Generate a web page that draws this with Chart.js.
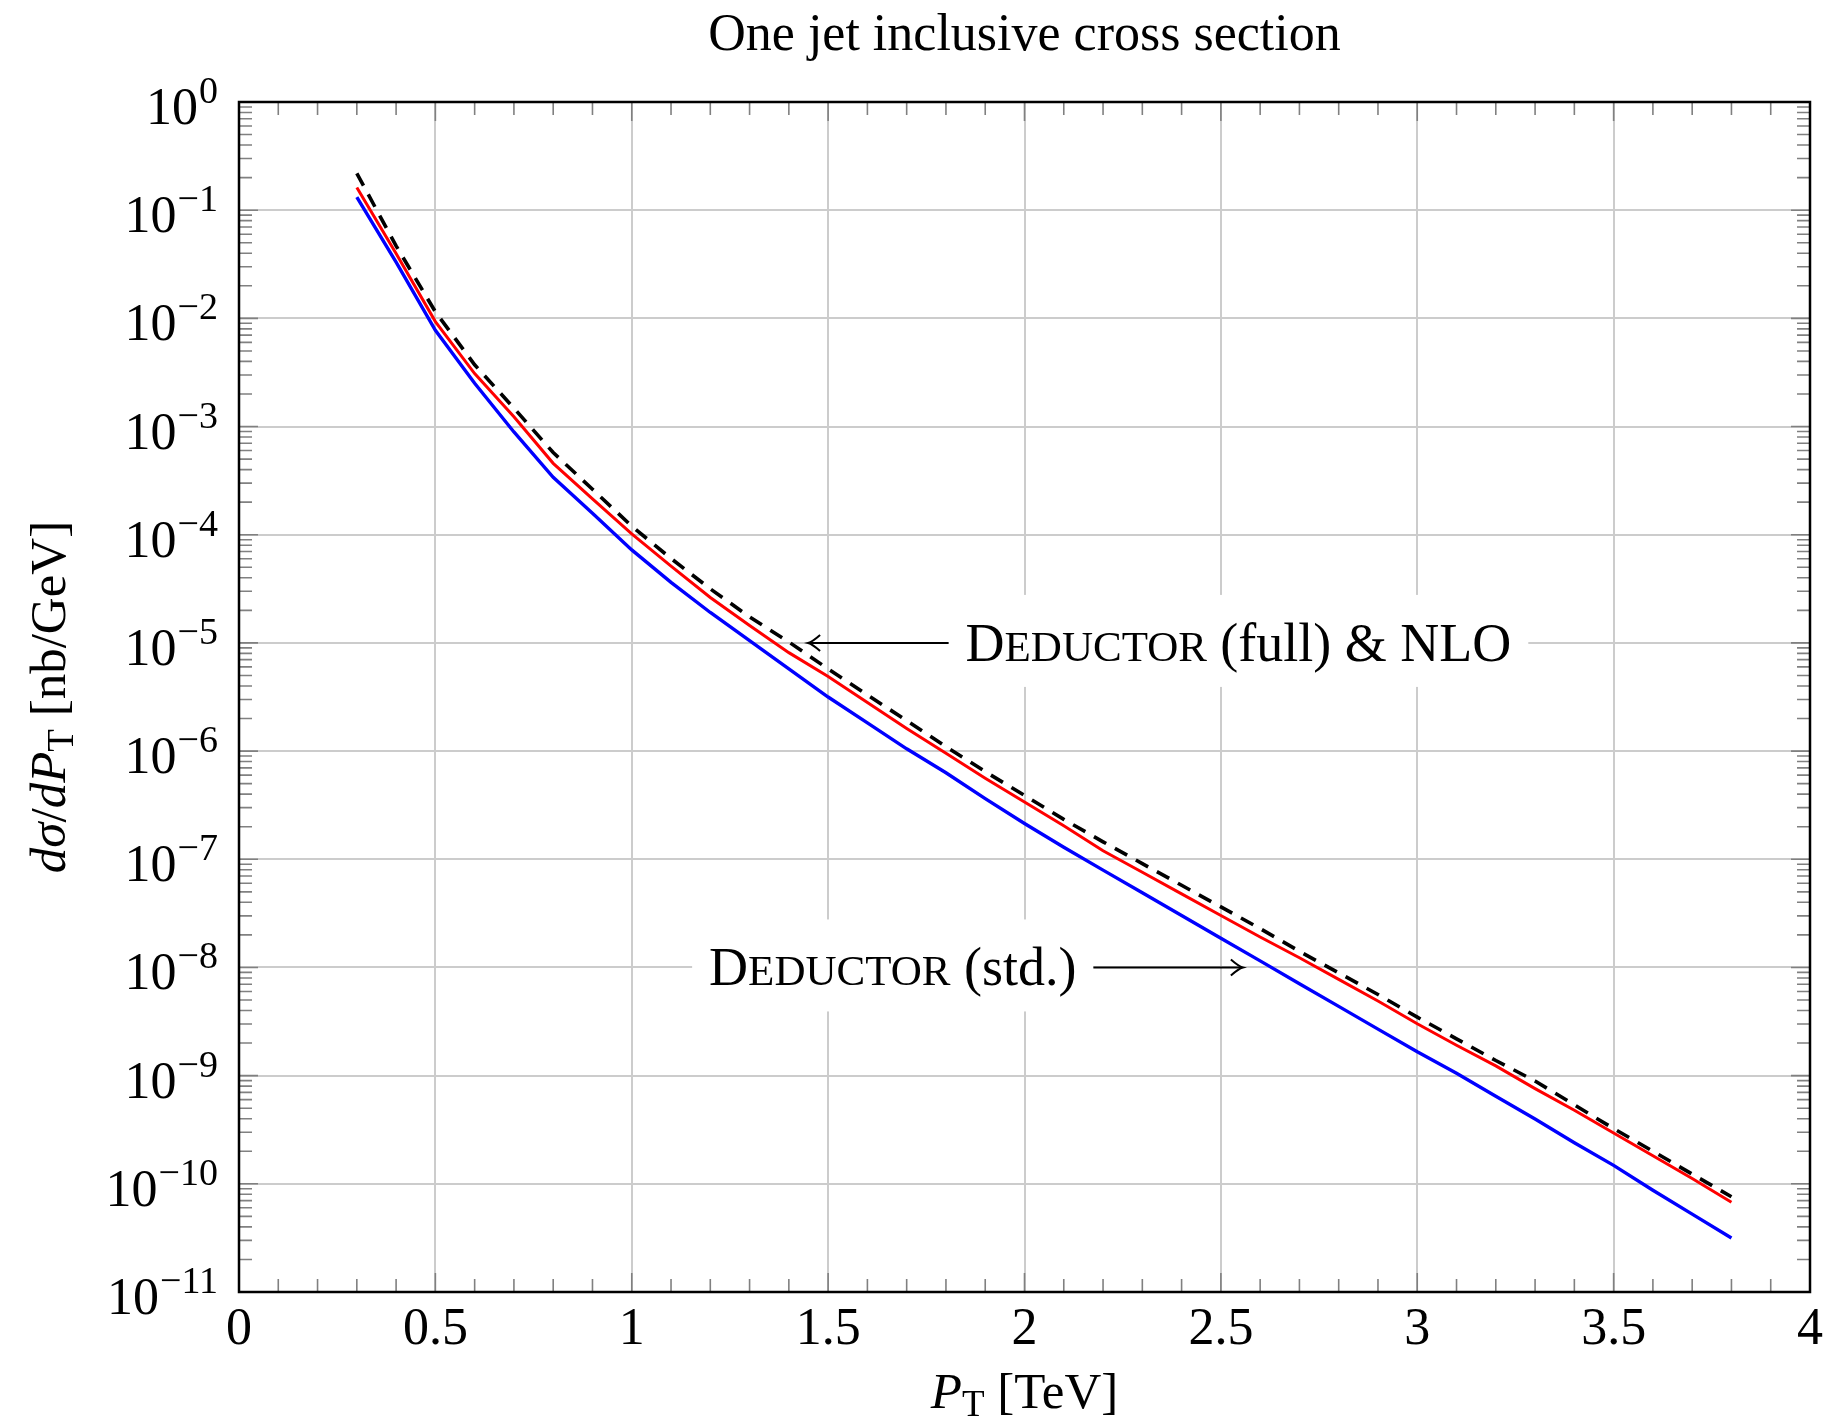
<!DOCTYPE html>
<html>
<head>
<meta charset="utf-8">
<script src="https://cdn.jsdelivr.net/npm/chart.js@4.4.1/dist/chart.umd.min.js"></script>
<style>
  html, body { margin: 0; padding: 0; background: #fff; }
  canvas { display: block; }
</style>
</head>
<body>
<canvas id="myChart" width="1828" height="1425"></canvas>
<script>
// P_T in TeV
const ptTeV = [0.3, 0.4, 0.5, 0.6, 0.7, 0.8, 0.9, 1.0, 1.1, 1.2, 1.3, 1.4, 1.5, 1.6, 1.7, 1.8, 1.9, 2.0,
               2.1, 2.2, 2.3, 2.4, 2.5, 2.6, 2.7, 2.8, 2.9, 3.0, 3.1, 3.2, 3.3, 3.4, 3.5, 3.6, 3.7, 3.8];

// dsigma/dPT in nb/GeV
const deductorStd = [1.32e-1, 3.31e-2, 7.76e-3, 2.51e-3, 8.91e-4, 3.39e-4, 1.58e-4, 7.24e-5, 3.63e-5, 1.91e-5,
                     1.05e-5, 5.75e-6, 3.16e-6, 1.82e-6, 1.05e-6, 6.31e-7, 3.63e-7, 2.14e-7, 1.29e-7, 7.94e-8,
                     4.90e-8, 3.02e-8, 1.86e-8, 1.15e-8, 7.08e-9, 4.37e-9, 2.69e-9, 1.66e-9, 1.05e-9, 6.46e-10,
                     3.98e-10, 2.40e-10, 1.48e-10, 8.71e-11, 5.25e-11, 3.16e-11];

const deductorFull = [1.62e-1, 3.98e-2, 9.33e-3, 3.09e-3, 1.23e-3, 4.57e-4, 2.14e-4, 1.02e-4, 5.13e-5, 2.63e-5,
                      1.45e-5, 8.13e-6, 4.90e-6, 2.82e-6, 1.62e-6, 9.55e-7, 5.62e-7, 3.39e-7, 2.04e-7, 1.20e-7,
                      7.59e-8, 4.79e-8, 3.02e-8, 1.91e-8, 1.23e-8, 7.76e-9, 4.90e-9, 3.02e-9, 1.91e-9, 1.23e-9,
                      7.59e-10, 4.79e-10, 2.95e-10, 1.82e-10, 1.12e-10, 6.76e-11];

const nlo = [2.19e-1, 4.68e-2, 1.15e-2, 3.72e-3, 1.48e-3, 5.75e-4, 2.63e-4, 1.20e-4, 6.03e-5, 3.16e-5,
             1.74e-5, 1.02e-5, 5.75e-6, 3.31e-6, 1.91e-6, 1.10e-6, 6.46e-7, 3.89e-7, 2.34e-7, 1.45e-7,
             9.12e-8, 5.75e-8, 3.63e-8, 2.29e-8, 1.41e-8, 8.91e-9, 5.62e-9, 3.47e-9, 2.19e-9, 1.38e-9,
             8.91e-10, 5.37e-10, 3.24e-10, 2.00e-10, 1.23e-10, 7.59e-11];

const xTickLabels = ['0', '0.5', '1', '1.5', '2', '2.5', '3', '3.5', '4'];
const yTickExponents = [0, -1, -2, -3, -4, -5, -6, -7, -8, -9, -10, -11];

const SERIF = '"Liberation Serif", "DejaVu Serif", serif';
const ctx = document.getElementById('myChart').getContext('2d');

const toPoints = (ys) => ptTeV.map((x, i) => ({ x: x, y: ys[i] }));

// draw a run of [text, font, dy] pieces starting at x
const runWidth = (c, pieces) => pieces.reduce((w, p) => { c.font = p[1]; return w + c.measureText(p[0]).width; }, 0);
const drawRun = (c, pieces, x, y) => {
    pieces.forEach(p => {
        c.font = p[1];
        c.fillText(p[0], x, y + (p[2] || 0));
        x += c.measureText(p[0]).width;
    });
};

const smallCaps = (size) => [
    ['D', size + 'px ' + SERIF],
    ['EDUCTOR', Math.round(size * 0.8) + 'px ' + SERIF]
];

const notes = [
    { pieces: (s) => smallCaps(s).concat([[' (full) & NLO', s + 'px ' + SERIF]]), textX: 1.85, y: 1e-5, tipX: 1.449, side: 'left' },
    { pieces: (s) => smallCaps(s).concat([[' (std.)', s + 'px ' + SERIF]]), textX: 1.197, y: 1e-8, tipX: 2.556, side: 'right' }
];

const decorations = {
    id: 'decorations',
    beforeDatasetsDraw(chart) {
        const c = chart.ctx;
        const { x, y } = chart.scales;
        c.save();
        c.textBaseline = 'alphabetic';
        c.textAlign = 'left';
        notes.forEach(n => {
            const size = 54;
            const pieces = n.pieces(size);
            const w = runWidth(c, pieces);
            const left = x.getPixelForValue(n.textX);
            const mid = y.getPixelForValue(n.y);
            const base = mid + 18;
            const pad = 17;
            c.fillStyle = '#fff';
            c.fillRect(left - pad, base - 66, w + 2 * pad, 92);
            c.fillStyle = '#000';
            drawRun(c, pieces, left, base);
            // arrow
            const tail = n.side === 'left' ? left - pad : left + w + pad;
            const tip = x.getPixelForValue(n.tipX);
            const dir = tip < tail ? 1 : -1;
            c.strokeStyle = '#000';
            c.lineWidth = 2;
            c.beginPath();
            c.moveTo(tail, mid);
            c.lineTo(tip + dir * 1, mid);
            c.stroke();
            c.beginPath();
            c.moveTo(tip + dir * 12, mid - 8);
            c.quadraticCurveTo(tip + dir * 4, mid - 1, tip, mid);
            c.quadraticCurveTo(tip + dir * 4, mid + 1, tip + dir * 12, mid + 8);
            c.stroke();
        });
        c.restore();
    },
    afterDatasetsDraw(chart) {
        const c = chart.ctx;
        const a = chart.chartArea;
        const { x, y } = chart.scales;
        c.save();

        // inward ticks
        c.strokeStyle = '#808080';
        c.lineWidth = 1.6;
        c.beginPath();
        for (let i = 1; i < 40; i++) {
            const px = x.getPixelForValue(i / 10);
            const len = i % 5 === 0 ? 19 : 13;
            c.moveTo(px, a.bottom); c.lineTo(px, a.bottom - len);
            c.moveTo(px, a.top); c.lineTo(px, a.top + len);
        }
        yTickExponents.forEach(e => {
            const py = y.getPixelForValue(Math.pow(10, e));
            if (e !== 0 && e !== -11) {
                c.moveTo(a.left, py); c.lineTo(a.left + 19, py);
                c.moveTo(a.right, py); c.lineTo(a.right - 19, py);
            }
            if (e < 0) {
                for (let m = 2; m <= 9; m++) {
                    const pm = y.getPixelForValue(m * Math.pow(10, e));
                    c.moveTo(a.left, pm); c.lineTo(a.left + 13, pm);
                    c.moveTo(a.right, pm); c.lineTo(a.right - 13, pm);
                }
            }
        });
        c.stroke();

        // frame
        c.strokeStyle = '#000';
        c.lineWidth = 2.5;
        c.strokeRect(a.left, a.top, a.right - a.left, a.bottom - a.top);

        c.fillStyle = '#000';
        c.textBaseline = 'alphabetic';

        // x tick labels
        c.font = '52px ' + SERIF;
        c.textAlign = 'center';
        xTickLabels.forEach(t => {
            c.fillText(t, x.getPixelForValue(parseFloat(t)), a.bottom + 52);
        });

        // y tick labels 10^e
        c.textAlign = 'right';
        yTickExponents.forEach(e => {
            const py = y.getPixelForValue(Math.pow(10, e));
            const ex = e === 0 ? '0' : '\u2212' + Math.abs(e);
            const right = a.left - 21;
            c.font = '38px ' + SERIF;
            const we = c.measureText(ex).width;
            c.fillText(ex, right, py + 1);
            c.font = '52px ' + SERIF;
            c.fillText('10', right - we - 1, py + 22);
        });

        // title
        c.textAlign = 'center';
        c.font = '52px ' + SERIF;
        c.fillText('One jet inclusive cross section', (a.left + a.right) / 2, 50);

        // x axis title
        c.textAlign = 'left';
        const xt = [
            ['P', 'italic 51px ' + SERIF],
            ['T', '37px ' + SERIF, 8],
            [' [TeV]', '51px ' + SERIF]
        ];
        const xw = runWidth(c, xt);
        drawRun(c, xt, (a.left + a.right) / 2 - xw / 2, 1408);

        // y axis title
        const yt = [
            ['d\u03C3', 'italic 51px ' + SERIF],
            ['/', '51px ' + SERIF],
            ['dP', 'italic 51px ' + SERIF],
            ['T', '37px ' + SERIF, 8],
            [' [nb/GeV]', '51px ' + SERIF]
        ];
        const yw = runWidth(c, yt);
        c.translate(65, (a.top + a.bottom) / 2);
        c.rotate(-Math.PI / 2);
        drawRun(c, yt, -yw / 2, 0);

        c.restore();
    }
};

const myChart = new Chart(ctx, {
    type: 'line',
    data: {
        datasets: [
            {
                label: 'Deductor (std.)',
                data: toPoints(deductorStd),
                borderColor: 'rgb(0, 0, 255)',
                borderWidth: 3.4,
                order: 3
            },
            {
                label: 'Deductor (full)',
                data: toPoints(deductorFull),
                borderColor: 'rgb(255, 0, 0)',
                borderWidth: 3,
                order: 2
            },
            {
                label: 'NLO',
                data: toPoints(nlo),
                borderColor: 'rgb(0, 0, 0)',
                borderWidth: 3.6,
                borderDash: [14, 10],
                order: 1
            }
        ]
    },
    options: {
        responsive: false,
        animation: false,
        devicePixelRatio: 1,
        layout: { padding: { top: 102, right: 18, left: 0, bottom: 0 } },
        elements: { point: { radius: 0 }, line: { tension: 0, fill: false } },
        plugins: { legend: { display: false }, tooltip: { enabled: false }, title: { display: false } },
        scales: {
            x: {
                type: 'linear',
                min: 0,
                max: 4,
                ticks: { display: false, stepSize: 0.5 },
                grid: { color: '#cccccc', lineWidth: 2, drawTicks: false },
                border: { display: false },
                afterFit: (s) => { s.height = 133; }
            },
            y: {
                type: 'logarithmic',
                min: 1e-11,
                max: 1,
                ticks: { display: false },
                afterBuildTicks: (s) => { s.ticks = yTickExponents.map(e => ({ value: Math.pow(10, e) })); },
                grid: { color: '#cccccc', lineWidth: 2, drawTicks: false },
                border: { display: false },
                afterFit: (s) => { s.width = 239; }
            }
        }
    },
    plugins: [decorations]
});
</script>
</body>
</html>
